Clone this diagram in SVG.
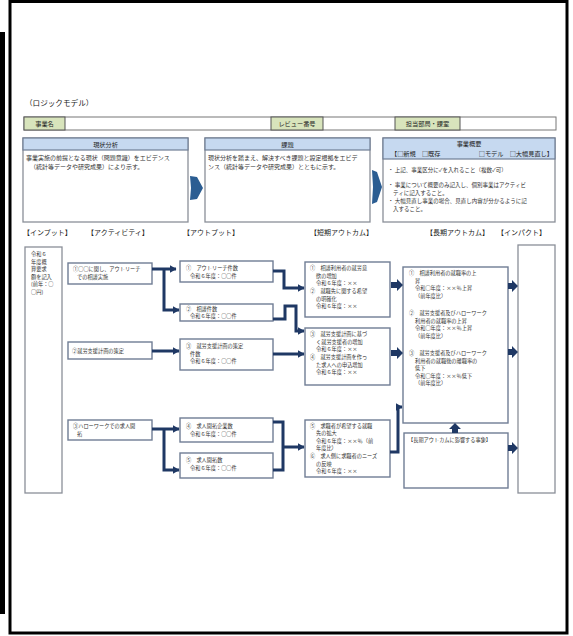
<svg xmlns="http://www.w3.org/2000/svg" width="573" height="636" viewBox="0 0 573 636">
<defs>
<marker id="ah" markerUnits="userSpaceOnUse" markerWidth="7" markerHeight="8" refX="6.5" refY="4" orient="auto">
<path d="M0,0 L7,4 L0,8 Z" fill="#1f3864"/>
</marker>
</defs>
<style>
text{font-family:"Noto Sans CJK JP","Noto Sans",sans-serif;fill:#333;}
.t{font-size:5.2px;}
.tb{font-size:5.5px;}
.tt{font-size:6px;}
.hd{font-size:6.2px;fill:#222;}
.ch{font-size:7px;fill:#222;}
.box{fill:#fff;stroke:#6f7d94;stroke-width:1.4;}
.gbox{fill:#fff;stroke:#8a8f98;stroke-width:1.3;}
.blue{fill:#c6d9f0;stroke:#6f7d94;stroke-width:1.2;}
.green{fill:#d8e4bc;stroke:#555;stroke-width:1;}
.cell{fill:#fff;stroke:#777;stroke-width:1;}
.cn{fill:none;stroke:#1f3864;stroke-width:3;}
.fa{fill:#1f3864;}
.chev{fill:#2b5d92;}
</style>
<rect x="0" y="0" width="573" height="636" fill="#fff"/>
<rect x="10" y="1.5" width="557" height="631.5" fill="none" stroke="#000" stroke-width="3"/>
<rect x="0" y="32" width="5" height="582" fill="#000"/>

<text x="25" y="106" style="font-size:7.6px;fill:#222">（ロジックモデル）</text>

<g id="header">
<rect class="cell" x="24" y="117" width="532" height="13"/>
<rect class="green" x="24" y="117" width="41" height="13"/>
<text class="hd" x="44.5" y="126" text-anchor="middle">事業名</text>
<rect class="green" x="271" y="117" width="52" height="13"/>
<text class="hd" x="297" y="126" text-anchor="middle">レビュー番号</text>
<rect class="green" x="395" y="117" width="65" height="13"/>
<text class="hd" x="427.5" y="126" text-anchor="middle">担当部局・課室</text>
</g>

<g id="genjo">
<rect class="gbox" x="23" y="138" width="165" height="84"/>
<rect class="blue" x="23" y="138" width="165" height="12"/>
<text class="hd" x="105.5" y="146.5" text-anchor="middle">現状分析</text>
<text class="tt" x="26" y="160">事業実施の前提となる現状（問題意識）をエビデンス</text>
<text class="tt" x="30" y="169">（統計等データや研究成果）により示す。</text>
</g>

<g id="kadai">
<rect class="gbox" x="205" y="138" width="165" height="84"/>
<rect class="blue" x="205" y="138" width="165" height="12"/>
<text class="hd" x="287.5" y="146.5" text-anchor="middle">課題</text>
<text class="tt" x="208" y="160">現状分析を踏まえ、解決すべき課題と設定根拠をエビデ</text>
<text class="tt" x="208" y="169">ンス（統計等データや研究成果）とともに示す。</text>
</g>

<g id="gaiyo">
<rect class="gbox" x="383" y="138" width="172" height="84"/>
<rect class="blue" x="383" y="138" width="172" height="21"/>
<text class="hd" x="469" y="146" text-anchor="middle">事業概要</text>
<text class="hd" x="391" y="155.5">【□新規　□既存</text>
<text class="hd" x="553" y="155.5" text-anchor="end">□モデル　□大幅見直し】</text>
<text class="tb" x="388" y="172">・ 上記、事業区分に✓を入れること（複数✓可）</text>
<text class="tb" x="388" y="187">・ 事業について概要のみ記入し、個別事業はアクティビ</text>
<text class="tb" x="393" y="195">ティに記入すること。</text>
<text class="tb" x="388" y="203">・ 大幅見直し事業の場合、見直し内容が分かるように記</text>
<text class="tb" x="393" y="211">入すること。</text>
</g>

<g id="colheads">
<text class="ch" x="23" y="235">【インプット】</text>
<text class="ch" x="87" y="235">【アクティビティ】</text>
<text class="ch" x="183" y="235">【アウトプット】</text>
<text class="ch" x="310" y="235">【短期アウトカム】</text>
<text class="ch" x="426" y="235">【長期アウトカム】</text>
<text class="ch" x="497" y="235">【インパクト】</text>
</g>

<g id="input">
<rect class="gbox" x="25" y="247" width="37" height="246"/>
<text class="t" x="31" y="256">令和６</text>
<text class="t" x="31" y="263.6">年度概</text>
<text class="t" x="31" y="271.2">算要求</text>
<text class="t" x="31" y="278.8">額を記入</text>
<text class="t" x="31" y="286.4">(前年：○</text>
<text class="t" x="31" y="294">○円)</text>
</g>

<g id="act1">
<rect class="box" x="68" y="263" width="84" height="21"/>
<text class="t" x="73" y="271">①○○に関し、アウトリーチ</text>
<text class="t" x="77" y="279">での相談実施</text>
</g>
<g id="act2">
<rect class="box" x="68" y="342" width="84" height="17"/>
<text class="t" x="72" y="352.5">②就労支援計画の策定</text>
</g>
<g id="act3">
<rect class="box" x="68" y="420" width="84" height="20"/>
<text class="t" x="73" y="428">③ハローワークでの求人開</text>
<text class="t" x="77" y="436">拓</text>
</g>

<g id="out1">
<rect class="box" x="180" y="261" width="93" height="21"/>
<text class="t" x="186" y="269.5">①　アウトリーチ件数</text>
<text class="t" x="190" y="277.5">令和６年度：○○件</text>
</g>
<g id="out2">
<rect class="box" x="180" y="304" width="93" height="17"/>
<text class="t" x="186" y="310.5">②　相談件数</text>
<text class="t" x="190" y="318.1">令和６年度：○○件</text>
</g>
<g id="out3">
<rect class="box" x="180" y="339" width="93" height="31"/>
<text class="t" x="186" y="348">③　就労支援計画の策定</text>
<text class="t" x="190" y="355.6">件数</text>
<text class="t" x="190" y="363.2">令和６年度：○○件</text>
</g>
<g id="out4">
<rect class="box" x="180" y="418" width="93" height="24"/>
<text class="t" x="186" y="428">④　求人開拓企業数</text>
<text class="t" x="190" y="436">令和６年度：○○件</text>
</g>
<g id="out5">
<rect class="box" x="180" y="453" width="93" height="25"/>
<text class="t" x="186" y="462">⑤　求人開拓数</text>
<text class="t" x="190" y="470">令和６年度：○○件</text>
</g>

<g id="st1">
<rect class="box" x="305" y="262" width="85" height="55"/>
<text class="t" x="310" y="270">①　相談利用者の就労意</text>
<text class="t" x="316" y="277.6">欲の増加</text>
<text class="t" x="316" y="285.2">令和６年度：××</text>
<text class="t" x="310" y="293">②　就職先に関する希望</text>
<text class="t" x="316" y="300.6">の明確化</text>
<text class="t" x="316" y="308.2">令和６年度：××</text>
</g>
<g id="st2">
<rect class="box" x="305" y="328" width="85" height="57"/>
<text class="t" x="310" y="336">③　就労支援計画に基づ</text>
<text class="t" x="316" y="343.6">く就労支援者の増加</text>
<text class="t" x="316" y="351.2">令和６年度：××</text>
<text class="t" x="310" y="359">④　就労支援計画を作っ</text>
<text class="t" x="316" y="366.6">た求人への申込増加</text>
<text class="t" x="316" y="374.2">令和６年度：××</text>
</g>
<g id="st3">
<rect class="box" x="305" y="420" width="85" height="57"/>
<text class="t" x="310" y="427.6">⑤　求職者が希望する就職</text>
<text class="t" x="316" y="435.2">先の拡大</text>
<text class="t" x="316" y="442.8">令和６年度：××％（前</text>
<text class="t" x="316" y="450.4">年度比）</text>
<text class="t" x="310" y="458">⑥　求人側に求職者のニーズ</text>
<text class="t" x="316" y="465.6">の反映</text>
<text class="t" x="316" y="473.2">令和６年度：××</text>
</g>

<g id="lt">
<rect class="box" x="403" y="267" width="105" height="156"/>
<text class="t" x="409" y="275">①　相談利用者の就職率の上</text>
<text class="t" x="415" y="282.6">昇</text>
<text class="t" x="415" y="290.2">令和○年度：××％上昇</text>
<text class="t" x="415" y="297.8">（前年度比）</text>
<text class="t" x="409" y="315">②　就労支援者及びハローワーク</text>
<text class="t" x="415" y="322.6">利用者の就職率の上昇</text>
<text class="t" x="415" y="330.2">令和○年度：××％上昇</text>
<text class="t" x="415" y="337.8">（前年度比）</text>
<text class="t" x="409" y="355">③　就労支援者及びハローワーク</text>
<text class="t" x="415" y="362.6">利用者の就職後の離職率の</text>
<text class="t" x="415" y="370.2">低下</text>
<text class="t" x="415" y="377.8">令和○年度：××％低下</text>
<text class="t" x="415" y="385.4">（前年度比）</text>
</g>
<g id="lt-factors">
<rect class="box" x="404" y="433" width="104" height="55"/>
<text class="t" x="408" y="442">【長期アウトカムに影響する事象】</text>
</g>

<g id="impact">
<rect class="gbox" x="518" y="245" width="37" height="248"/>
</g>

<g id="connectors">
<polygon class="chev" points="190,176 197,177 203,188 197,199 190,200 191,188"/>
<polygon class="chev" points="372,170 377,172 382,187 377,202 372,204 373,187"/>

<polyline class="cn" points="152,269 165,269 176,269" marker-end="url(#ah)"/>
<polyline class="cn" points="164,269 164,310 179,310" marker-end="url(#ah)"/>
<polyline class="cn" points="152,351 179,351" marker-end="url(#ah)"/>
<polyline class="cn" points="152,429 179,429" marker-end="url(#ah)"/>
<polyline class="cn" points="164,429 164,470 179,470" marker-end="url(#ah)"/>

<polyline class="cn" points="273,271 284,271 284,288 304,288" marker-end="url(#ah)"/>
<polyline class="cn" points="273,319 285,319 285,306 296,306 296,331 304,331" marker-end="url(#ah)"/>
<polyline class="cn" points="273,354 304,354" marker-end="url(#ah)"/>
<polyline class="cn" points="273,422 283,422 283,470 273,470"/>
<polyline class="cn" points="283,447 304,447" marker-end="url(#ah)"/>
<polyline class="cn" points="390,452 398,452 398,407 402,407" marker-end="url(#ah)"/>

<polygon class="fa" points="391,282 397,282 397,279 403,285 397,291 397,288 391,288"/>
<polygon class="fa" points="391,350 397,350 397,347 403,353 397,359 397,356 391,356"/>
<polygon class="fa" points="508,283 512,283 512,280 518,286 512,292 512,289 508,289"/>
<polygon class="fa" points="508,349 512,349 512,346 518,352 512,358 512,355 508,355"/>
<polygon class="fa" points="508,445 512,445 512,442 518,448 512,454 512,451 508,451"/>
<polygon class="fa" points="452,433 452,429 449,429 455,423 461,429 458,429 458,433"/>
</g>
</svg>
